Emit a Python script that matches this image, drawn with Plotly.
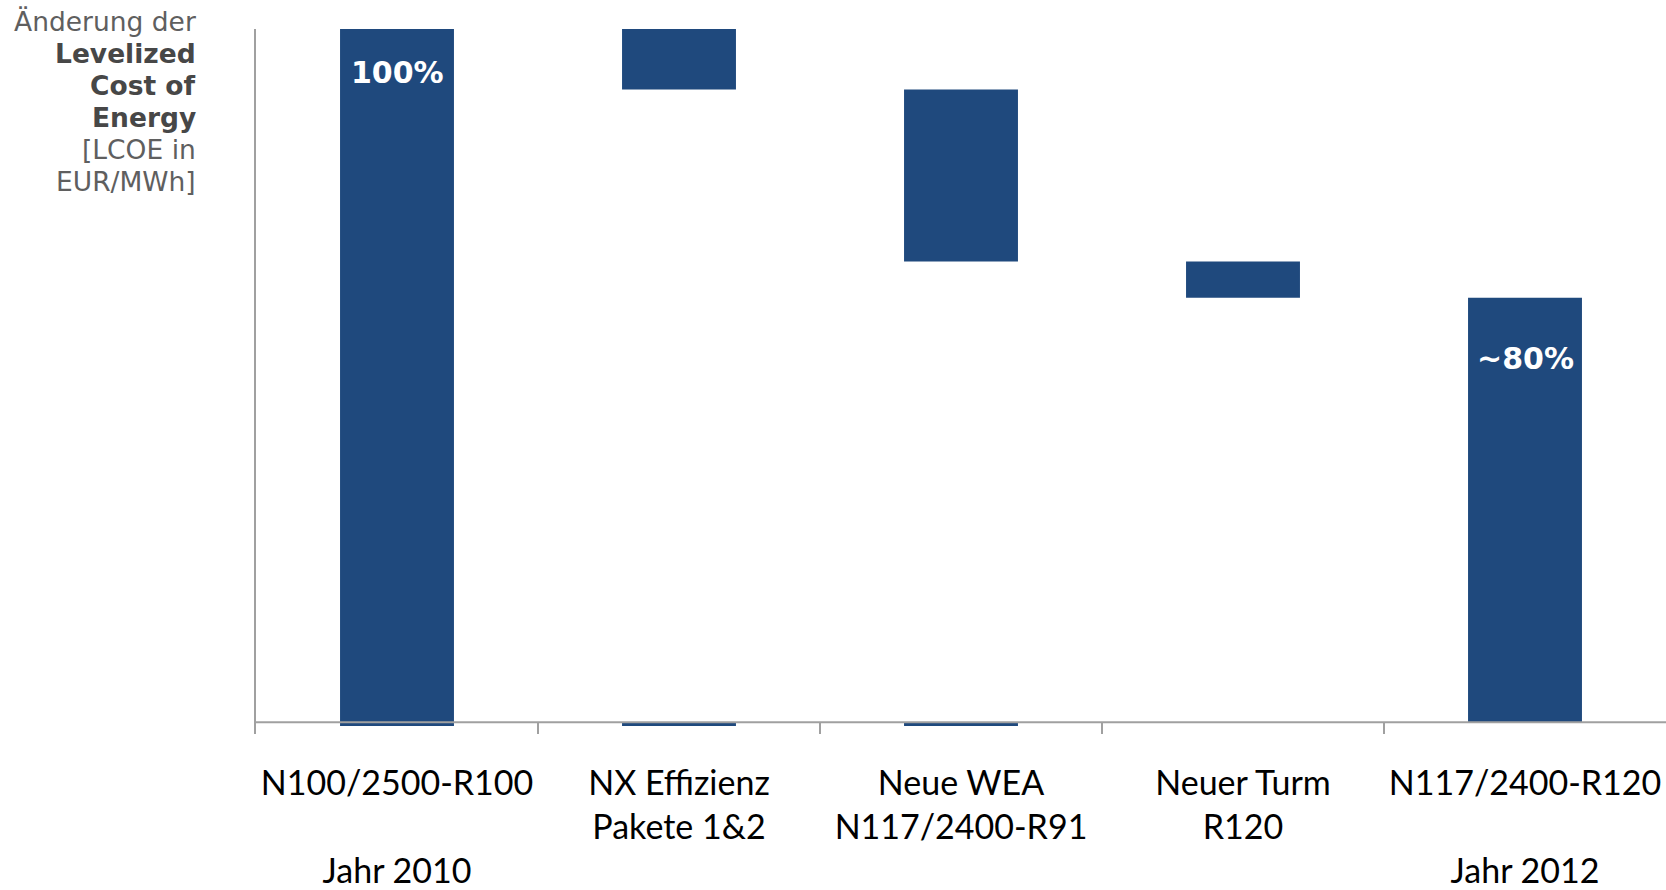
import plotly.graph_objects as go

# Waterfall: LCOE change from the 2010 turbine to the 2012 turbine
categories = [
    "N100/2500-R100<br> <br>Jahr 2010",
    "NX Effizienz<br>Pakete 1&2",
    "Neue WEA<br>N117/2400-R91",
    "Neuer Turm<br>R120",
    "N117/2400-R120<br> <br>Jahr 2012",
]
start_value = 100.0
steps = [-4.5, -12.8, -2.7]
end_value = start_value + sum(steps)          # ~80
bar_labels = ["100%", "~80%"]

# value-axis level where the category axis sits, and the floor of the small stubs
axis_base = 48.4
stub_floor = 48.12
stub_categories = [categories[1], categories[2]]

BLUE = "#1F497D"
GRID_GREY = "#A0A0A0"

# running totals -> floating bars
bases, heights = [], []
bases.append(stub_floor)
heights.append(start_value - stub_floor)
level = start_value
for s in steps:
    new_level = level + s
    bases.append(min(level, new_level))
    heights.append(abs(s))
    level = new_level
bases.append(axis_base)
heights.append(end_value - axis_base)

fig = go.Figure()
fig.add_trace(go.Bar(
    x=categories, y=heights, base=bases, width=0.404,
    marker=dict(color=BLUE, line=dict(width=0)), hoverinfo="skip",
))
fig.add_trace(go.Bar(
    x=stub_categories, y=[axis_base - stub_floor] * len(stub_categories),
    base=[stub_floor] * len(stub_categories), width=0.404,
    marker=dict(color=BLUE, line=dict(width=0)), hoverinfo="skip",
))

# category axis line and boundary ticks
y_bottom = 47.53
fig.add_shape(type="line", xref="x", yref="y", x0=-0.5, x1=4.5, y0=axis_base, y1=axis_base,
              line=dict(color=GRID_GREY, width=2), layer="above")
for b in [0.5, 1.5, 2.5, 3.5]:
    fig.add_shape(type="line", xref="x", yref="y", x0=b, x1=b, y0=axis_base, y1=y_bottom,
                  line=dict(color=GRID_GREY, width=2), layer="above")

# value labels inside the first and last bars
fig.add_annotation(x=categories[0], y=start_value, yref="y", text="<b>" + bar_labels[0] + "</b>",
                   showarrow=False, yanchor="middle", yshift=-43.5,
                   font=dict(family="DejaVu Sans", size=30, color="white"))
fig.add_annotation(x=categories[4], y=end_value, yref="y", text="<b>" + bar_labels[1] + "</b>",
                   showarrow=False, yanchor="middle", yshift=-61,
                   font=dict(family="DejaVu Sans", size=30, color="white"))

# value-axis title, one line per annotation, right-aligned left of the plot
PLOT_TOP, PLOT_BOTTOM, PLOT_LEFT, PLOT_WIDTH = 29, 734, 256, 1410
title_lines = [
    ("Änderung der", False),
    ("Levelized", True),
    ("Cost of", True),
    ("Energy", True),
    ("[LCOE in", False),
    ("EUR/MWh]", False),
]
for i, (txt, bold) in enumerate(title_lines):
    py = 21.5 + 32 * i
    fig.add_annotation(
        xref="paper", yref="paper",
        x=(198 - PLOT_LEFT) / PLOT_WIDTH, y=(PLOT_BOTTOM - py) / (PLOT_BOTTOM - PLOT_TOP),
        xanchor="right", yanchor="middle", showarrow=False,
        text=f"<b>{txt}</b>" if bold else txt,
        font=dict(family="DejaVu Sans", size=26.5, color="#474747" if bold else "#5F5F5F"),
    )

fig.update_layout(
    width=1666, height=890,
    margin=dict(l=PLOT_LEFT, r=0, t=PLOT_TOP, b=890 - PLOT_BOTTOM),
    plot_bgcolor="white", paper_bgcolor="white",
    showlegend=False, barmode="overlay",
    xaxis=dict(range=[-0.5, 4.5], showline=False, ticks="", showgrid=False, zeroline=False,
               tickfont=dict(family="Lato", size=34, color="black"), ticklabelstandoff=26),
    yaxis=dict(range=[y_bottom, 100], showline=True, linecolor=GRID_GREY, linewidth=2,
               showticklabels=False, ticks="", showgrid=False, zeroline=False),
)

fig.write_html("out.html")
